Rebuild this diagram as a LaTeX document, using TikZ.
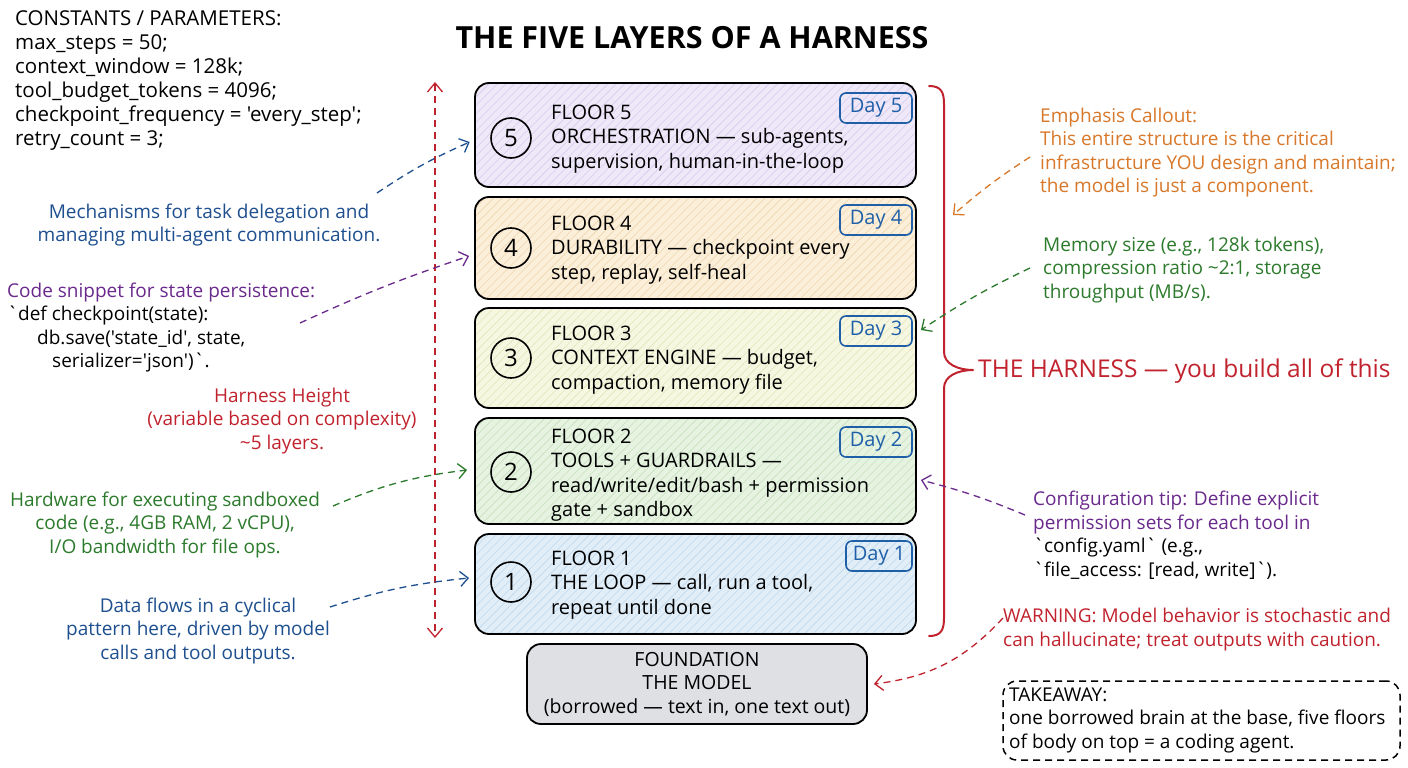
\documentclass[tikz,border=0pt]{standalone}
\usepackage{fontspec}
\newfontfamily\hand{Open Sans}
\usetikzlibrary{arrows.meta,patterns.meta,calc}
\definecolor{hred}{HTML}{C1232E}
\definecolor{cblue}{HTML}{1E4F8F}
\definecolor{cpurple}{HTML}{6A2A8C}
\definecolor{cgreen}{HTML}{2C7A2C}
\definecolor{corange}{HTML}{D8782A}
\definecolor{dayblue}{HTML}{1F5FA8}
\definecolor{fillA}{HTML}{EEE8F8}\definecolor{hatchA}{HTML}{D8CCEE}
\definecolor{fillB}{HTML}{FCEFD9}\definecolor{hatchB}{HTML}{EED6AE}
\definecolor{fillC}{HTML}{F6F7E1}\definecolor{hatchC}{HTML}{E2E5BC}
\definecolor{fillD}{HTML}{E6F3E1}\definecolor{hatchD}{HTML}{C6E0BD}
\definecolor{fillE}{HTML}{E1EEF8}\definecolor{hatchE}{HTML}{C0D8EC}
\definecolor{fnd}{HTML}{DFE0E4}
\begin{document}
\begin{tikzpicture}[x=1pt,y=-1pt,
  txt/.style={font=\hand\fontsize{19}{23.5}\selectfont, inner sep=0pt},
  floortxt/.style={font=\hand\fontsize{20}{24.3}\selectfont, inner sep=0pt, align=left, anchor=west},
  floorbox/.style={draw=black, line width=1.8pt, rounded corners=14pt, minimum width=441pt, inner sep=0pt,
     preaction={fill=#1}},
  hatch/.style={pattern={Lines[angle=45,distance=6pt,line width=0.6pt]}, pattern color=#1},
  num/.style={circle, draw=black, line width=1.6pt, minimum size=40pt, inner sep=0pt, font=\hand\fontsize{24}{24}\selectfont},
  daytag/.style={draw=dayblue, line width=1.6pt, rounded corners=6pt, minimum width=72pt, minimum height=30pt, inner sep=0pt, text=dayblue, font=\hand\fontsize{20}{20}\selectfont},
  callout/.style={dash pattern=on 7pt off 5pt, line width=1.3pt, -{Straight Barb[length=8pt,width=15pt,line width=1.3pt]}},
]
\useasboundingbox (0,0) rectangle (1408,768);
\fill[white] (0,0) rectangle (1408,768);

% title
\node[font=\hand\bfseries\fontsize{30.5}{30.5}\selectfont, inner sep=0pt] (title) at (692,38) {THE FIVE LAYERS OF A HARNESS};

% constants
\node[txt, font=\hand\fontsize{20.5}{24}\selectfont, align=left, anchor=west] (consts) at (15,81) {CONSTANTS / PARAMETERS:\\
max\_steps = 50;\\
context\_window = 128k;\\
tool\_budget\_tokens = 4096;\\
checkpoint\_frequency = 'every\_step';\\
retry\_count = 3;};

% floors
\node[floorbox=fillA, hatch=hatchA, minimum height=104pt] (f5) at (695.5,135) {};
\node[floorbox=fillB, hatch=hatchB, minimum height=102pt] (f4) at (695.5,248) {};
\node[floorbox=fillC, hatch=hatchC, minimum height=100pt] (f3) at (695.5,358) {};
\node[floorbox=fillD, hatch=hatchD, minimum height=106pt] (f2) at (695.5,471) {};
\node[floorbox=fillE, hatch=hatchE, minimum height=100pt] (f1) at (695.5,584) {};

\node[num] (n5) at (511,138) {5};
\node[num] (n4) at (511,248) {4};
\node[num] (n3) at (511,358) {3};
\node[num] (n2) at (511,472) {2};
\node[num] (n1) at (511,582) {1};

\node[floortxt] (t5) at (551,139) {FLOOR 5\\ORCHESTRATION — sub-agents,\\supervision, human-in-the-loop};
\node[floortxt] (t4) at (551,250) {FLOOR 4\\DURABILITY — checkpoint every\\step, replay, self-heal};
\node[floortxt] (t3) at (551,360) {FLOOR 3\\CONTEXT ENGINE — budget,\\compaction, memory file};
\node[floortxt] (t2) at (551,475) {FLOOR 2\\TOOLS + GUARDRAILS —\\read/write/edit/bash + permission\\gate + sandbox};
\node[floortxt] (t1) at (551,585) {FLOOR 1\\THE LOOP — call, run a tool,\\repeat until done};

\node[daytag] (d5) at (876,108) {Day 5};
\node[daytag] (d4) at (876,220) {Day 4};
\node[daytag] (d3) at (876,331) {Day 3};
\node[daytag] (d2) at (876,442) {Day 2};
\node[daytag, minimum width=66pt] (d1) at (879,556) {Day 1};

% foundation
\node[draw=black, line width=1.8pt, rounded corners=14pt, fill=fnd, minimum width=340pt, minimum height=80pt,
  inner sep=0pt, align=center, font=\hand\fontsize{19.5}{23.5}\selectfont] (fnd) at (697,684)
  {FOUNDATION\\THE MODEL\\(borrowed — text in, one text out)};

% harness height arrow
\coordinate (htop) at (435,82);
\coordinate (hbot) at (435,638);
\draw[hred, line width=1.3pt, dash pattern=on 7pt off 5pt, {Straight Barb[length=9pt,width=15pt,line width=1.3pt]}-{Straight Barb[length=9pt,width=15pt,line width=1.3pt]}] (htop) -- (hbot);

% brace
\draw[hred, line width=2pt, line cap=round, line join=round]
  (929,86) .. controls (941,86) and (944,92) .. (944,104) -- (944,352)
  .. controls (944,364) and (958,370) .. (973,370)
  .. controls (958,370) and (944,376) .. (944,388) -- (944,618)
  .. controls (944,630) and (941,636) .. (929,636);
\node[font=\hand\fontsize{24.5}{24.5}\selectfont, text=hred, inner sep=0pt, anchor=west] (harness) at (978,371) {THE HARNESS — you build all of this};

% left texts
\node[txt, text=cblue, align=center] (mech) at (209,225) {Mechanisms for task delegation and\\managing multi-agent communication.};
\node[txt, align=left, anchor=west] (code) at (7,327.5) {{\color{cpurple}Code snippet for state persistence:}\\
`def checkpoint(state):\\
\hspace*{30pt}db.save('state\_id', state,\\
\hspace*{45pt}serializer='json')`.};
\node[txt, text=hred, align=center] (height) at (282,421) {Harness Height\\(variable based on complexity)\\\textasciitilde5 layers.};
\node[txt, text=cgreen, align=center] (hw) at (165,525) {Hardware for executing sandboxed\\code (e.g., 4GB RAM, 2 vCPU),\\I/O bandwidth for file ops.};
\node[txt, text=cblue, align=center] (flow) at (198,631) {Data flows in a cyclical\\pattern here, driven by model\\calls and tool outputs.};

% right texts
\node[txt, text=corange, align=left, anchor=west] (emph) at (1040,152.5) {Emphasis Callout:\\This entire structure is the critical\\infrastructure YOU design and maintain;\\the model is just a component.};
\node[txt, text=cgreen, align=left, anchor=west] (mem) at (1043,270) {Memory size (e.g., 128k tokens),\\compression ratio \textasciitilde2:1, storage\\throughput (MB/s).};
\node[txt, align=left, anchor=west] (cfg) at (1033,535) {{\color{cpurple}Configuration tip: Define explicit}\\{\color{cpurple}permission sets for each tool in}\\`config.yaml` (e.g.,\\`file\_access: [read, write]`).};
\node[txt, text=hred, align=left, anchor=west] (warn) at (1003,629.5) {WARNING: Model behavior is stochastic and\\can hallucinate; treat outputs with caution.};

% takeaway
\node[draw=black, line width=1.5pt, dash pattern=on 7pt off 5pt, rounded corners=14pt, minimum width=397pt, minimum height=79pt, inner sep=0pt] (tkbox) at (1201.5,720.5) {};
\node[txt, align=left, anchor=west] (tk) at (1009,720) {TAKEAWAY:\\one borrowed brain at the base, five floors\\of body on top = a coding agent.};

% callout arrows
\coordinate (s1) at (377,193);
\coordinate (s2) at (300,323);
\coordinate (s3) at (333,506);
\coordinate (s4) at (330,607);
\coordinate (s5) at (1030,157);
\coordinate (b5) at (953,215);
\coordinate (s6) at (1030,268);
\coordinate (s7) at (1025,515);
\coordinate (s8) at (1003,618);

\draw[callout, cblue] (s1) to[bend left=5] ([shift={(-5,7)}]f5.west);
\draw[callout, cpurple] (s2) to[bend left=3] ([shift={(-5,8)}]f4.west);
\draw[callout, cgreen] (s3) to[bend left=8] ([shift={(-7,-1)}]f2.west);
\draw[callout, cblue] (s4) to[bend left=6] ([shift={(-5,-6)}]f1.west);
\draw[callout, corange] (s5) to[bend right=4] (b5);
\draw[callout, cgreen] (s6) to[bend right=4] ([shift={(4,-28)}]f3.east);
\draw[callout, cpurple] (s7) to[bend right=4] ([shift={(4,9)}]f2.east);
\draw[callout, hred] (s8) to[bend left=20] ([shift={(6,0)}]fnd.east);
\end{tikzpicture}
\end{document}
